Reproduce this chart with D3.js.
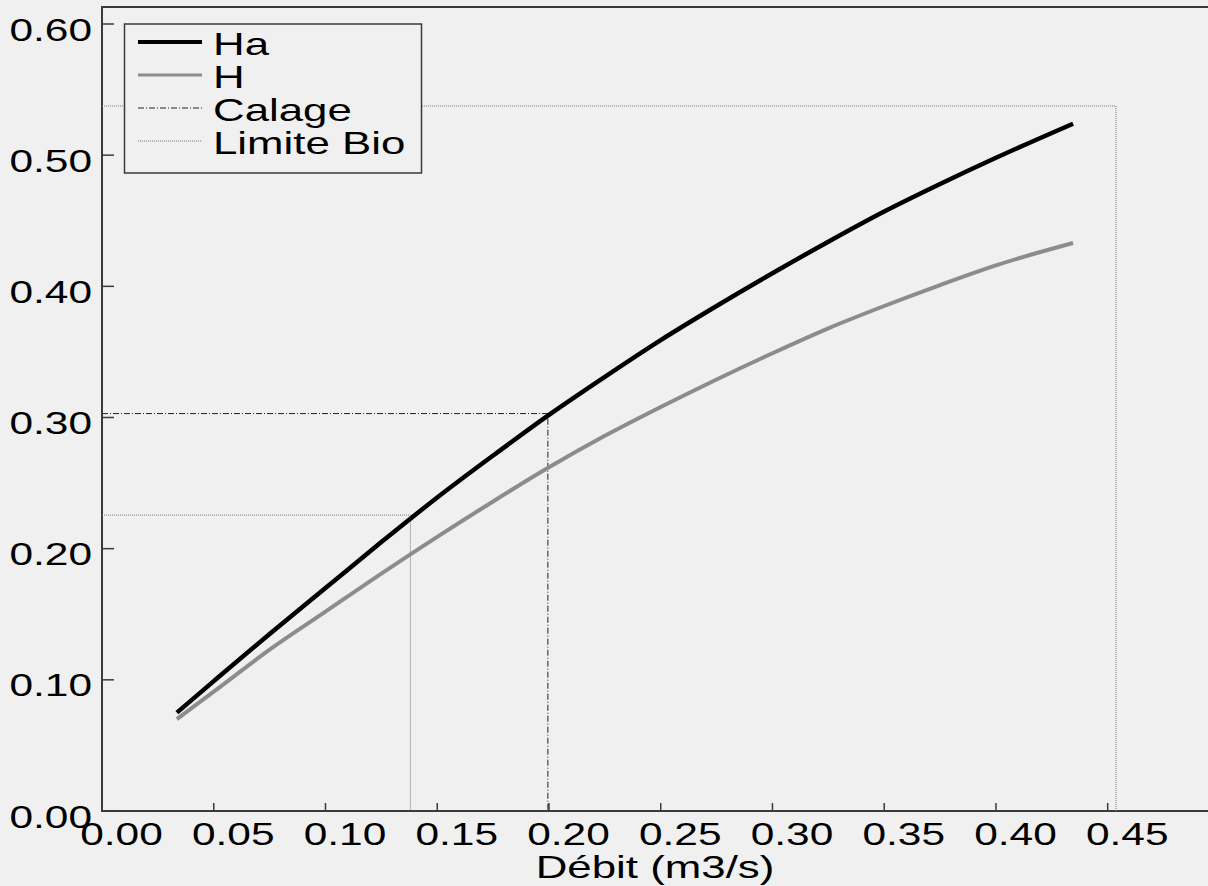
<!DOCTYPE html>
<html>
<head>
<meta charset="utf-8">
<script src="https://cdn.jsdelivr.net/npm/d3@7"></script>
<style>
  html, body { margin: 0; padding: 0; background: #f0f0f0; }
  svg { display: block; }
  text { font-family: "Liberation Sans", Arial, sans-serif; fill: #000; }
</style>
</head>
<body>
<svg id="chart"></svg>
<script>
// debit (m3/s) and water heights
const debit = [0.0335, 0.05, 0.075, 0.10, 0.125, 0.15, 0.175, 0.20, 0.225, 0.25, 0.275, 0.30, 0.325, 0.35, 0.375, 0.40, 0.4345];
const ha    = [0.075, 0.099, 0.135, 0.170, 0.205, 0.239, 0.271, 0.302, 0.331, 0.359, 0.385, 0.410, 0.434, 0.457, 0.478, 0.498, 0.524];
const hh    = [0.070, 0.091, 0.123, 0.152, 0.181, 0.209, 0.236, 0.262, 0.286, 0.308, 0.329, 0.349, 0.368, 0.385, 0.401, 0.416, 0.433];

const calageQ = [0.1995];
const calageH = [0.303];
const limiteQ = [0.138, 0.4537];
const limiteH = [0.2256, 0.5375];

const xTicks = [0, 0.05, 0.10, 0.15, 0.20, 0.25, 0.30, 0.35, 0.40, 0.45];
const yTicks = [0, 0.10, 0.20, 0.30, 0.40, 0.50, 0.60];
const legendNames = ["Ha", "H", "Calage", "Limite Bio"];

const W = 1208, H = 886;
const plotLeft = 102, plotBottom = 811, plotTop = 7;
const stretch = 1.37; // text in the picture is wide

const x = d3.scaleLinear().domain([0, 0.45]).range([plotLeft, 1107.7]);
const y = d3.scaleLinear().domain([0, 0.60]).range([plotBottom, 24]);

const svg = d3.select("#chart").attr("width", W).attr("height", H);

function label(g, px, py, txt, size, anchor) {
  g.append("g").attr("transform", `translate(${px},${py})`)
    .append("text")
    .attr("transform", `scale(${stretch},1)`)
    .attr("text-anchor", anchor)
    .style("font-size", size + "px")
    .text(txt);
}

// frame
const axisCol = "#3a3a3a";
svg.append("path")
  .attr("d", `M${W},${plotTop}H${plotLeft}V${plotBottom}H${W}`)
  .attr("fill", "none").attr("stroke", axisCol).attr("stroke-width", 2);

// y ticks (inside) + labels
const yAxis = svg.append("g");
yTicks.forEach(t => {
  yAxis.append("line").attr("x1", plotLeft).attr("x2", plotLeft + 12)
    .attr("y1", y(t)).attr("y2", y(t)).attr("stroke", axisCol).attr("stroke-width", 1.5);
  label(yAxis, 92, y(t) + 16.5, d3.format(".2f")(t), 31, "end");
});

// x ticks + labels
const xAxis = svg.append("g");
xTicks.forEach(t => {
  xAxis.append("line").attr("x1", x(t)).attr("x2", x(t))
    .attr("y1", plotBottom).attr("y2", plotBottom - 8).attr("stroke", axisCol).attr("stroke-width", 1.5);
  label(xAxis, x(t) + 19.5, 845, d3.format(".2f")(t), 31, "middle");
});
label(svg, (plotLeft + W) / 2, 878, "Débit (m3/s)", 32, "middle");

// reference lines
const guide = d3.line();
calageQ.forEach((q, i) => {
  svg.append("path")
    .attr("d", guide([[plotLeft, y(calageH[i])], [x(q), y(calageH[i])], [x(q), plotBottom]]))
    .attr("fill", "none").attr("stroke", "#222").attr("stroke-width", 1)
    .attr("stroke-dasharray", "6,2,1,2");
});
limiteQ.forEach((q, i) => {
  svg.append("path")
    .attr("d", guide([[plotLeft, y(limiteH[i])], [x(q), y(limiteH[i])], [x(q), plotBottom]]))
    .attr("fill", "none").attr("stroke", "#777").attr("stroke-width", 1)
    .attr("stroke-dasharray", "1,1");
});

// curves
const line = d3.line().x(d => x(d[0])).y(d => y(d[1])).curve(d3.curveMonotoneX);
svg.append("path")
  .datum(debit.map((q, i) => [q, hh[i]]))
  .attr("d", line).attr("fill", "none")
  .attr("stroke", "#8c8c8c").attr("stroke-width", 4);
svg.append("path")
  .datum(debit.map((q, i) => [q, ha[i]]))
  .attr("d", line).attr("fill", "none")
  .attr("stroke", "#000").attr("stroke-width", 4.5);

// legend
const leg = svg.append("g");
leg.append("rect").attr("x", 124.5).attr("y", 24).attr("width", 297).attr("height", 149)
  .attr("fill", "#f0f0f0").attr("stroke", axisCol).attr("stroke-width", 1.5);
const legStyles = [
  { stroke: "#000", w: 4, dash: null },
  { stroke: "#8c8c8c", w: 3, dash: null },
  { stroke: "#222", w: 1, dash: "6,2,1,2" },
  { stroke: "#777", w: 1, dash: "1,1" }
];
legendNames.forEach((name, i) => {
  const ly = 42 + i * 33;
  const s = legStyles[i];
  leg.append("line").attr("x1", 138).attr("x2", 202).attr("y1", ly).attr("y2", ly)
    .attr("stroke", s.stroke).attr("stroke-width", s.w)
    .attr("stroke-dasharray", s.dash);
  label(leg, 213, ly + 13, name, 32, "start");
});
</script>
</body>
</html>
